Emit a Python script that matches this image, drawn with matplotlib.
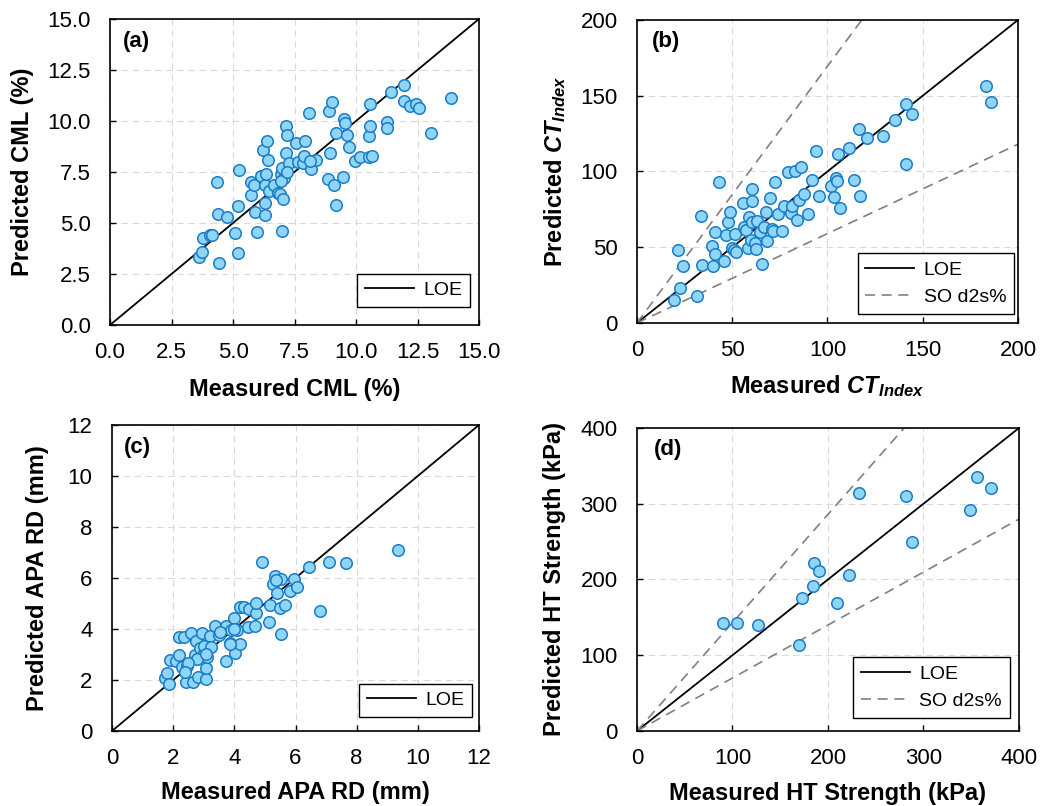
import matplotlib
matplotlib.use("Agg")
import matplotlib.pyplot as plt
import numpy as np

plt.rcParams['font.family'] = ['Liberation Sans', 'DejaVu Sans']
plt.rcParams['mathtext.fontset'] = 'custom'
plt.rcParams['mathtext.rm'] = 'Liberation Sans'
plt.rcParams['mathtext.it'] = 'Liberation Sans:italic'
plt.rcParams['mathtext.bf'] = 'Liberation Sans:bold'
plt.rcParams['mathtext.bfit'] = 'Liberation Sans:bold:italic'

# ---- data ----
cml_measured = [3.62, 3.73, 3.77, 4.05, 4.16, 4.34, 4.40, 4.44, 4.74, 5.08, 5.19, 5.20, 5.25,
                5.73, 5.75, 5.85, 5.88, 5.96, 6.13, 6.21, 6.29, 6.30, 6.30, 6.35, 6.37, 6.43,
                6.47, 6.66, 6.84, 6.90, 6.94, 7.01, 7.04, 7.01, 7.07, 7.14, 7.17, 7.19, 7.26,
                7.55, 7.64, 7.85, 7.88, 7.92, 8.10, 8.18, 8.39, 8.12, 8.86, 8.90, 8.94, 9.03,
                9.11, 9.17, 9.17, 9.47, 9.51, 9.57, 9.65, 9.72, 9.95, 10.15, 10.53, 10.64,
                10.53, 10.56, 10.56, 11.26, 11.26, 11.44, 11.94, 11.97, 12.21, 12.43, 12.56,
                13.06, 13.85, 6.95, 7.20]
cml_predicted = [3.32, 3.59, 4.25, 4.40, 4.41, 7.00, 5.44, 3.05, 5.30, 4.53, 3.55, 5.84, 7.60,
                 6.37, 7.03, 6.86, 5.55, 4.54, 7.32, 8.57, 6.86, 5.96, 5.37, 7.38, 9.00, 8.10,
                 6.58, 6.88, 6.45, 6.40, 7.42, 7.68, 6.18, 4.60, 7.19, 8.42, 9.75, 9.29, 7.92,
                 8.91, 7.97, 7.92, 8.28, 9.02, 10.41, 7.63, 8.09, 8.06, 7.17, 10.49, 8.45, 10.95,
                 6.88, 5.86, 9.43, 7.24, 10.08, 9.90, 9.31, 8.74, 8.04, 8.25, 8.25, 8.28,
                 9.28, 9.75, 10.83, 9.97, 9.67, 11.42, 11.75, 10.97, 10.72, 10.85, 10.64,
                 9.40, 11.14, 7.05, 7.50]

ct_measured = [19.3, 22.5, 21.6, 24.4, 31.6, 33.7, 34.2, 39.5, 39.8, 40.9, 41.2, 43.0, 45.6,
               46.8, 47.7, 48.8, 50.0, 51.1, 51.4, 51.8, 55.8, 56.1, 57.0, 58.1, 58.9, 59.6,
               60.2, 60.5, 60.2, 62.0, 62.6, 63.0, 64.4, 65.8, 66.7, 67.5, 68.2, 70.0, 70.7,
               71.4, 72.5, 74.2, 76.3, 77.2, 79.5, 80.9, 81.6, 82.8, 83.9, 85.1, 86.0, 87.5,
               90.0, 92.1, 94.2, 95.3, 101.9, 103.5, 104.7, 105.1, 105.6, 106.5, 111.1,
               113.7, 116.3, 117.0, 120.5, 129.3, 135.6, 141.2, 141.2, 144.2, 183.3, 186.0]
ct_predicted = [15.4, 22.8, 48.2, 37.9, 17.8, 70.8, 38.4, 51.1, 37.9, 45.4, 60.3, 93.2, 40.6,
                58.1, 66.4, 73.0, 49.8, 48.2, 58.8, 47.1, 78.9, 63.6, 61.4, 49.8, 70.2, 54.8,
                88.4, 80.5, 66.4, 52.6, 48.9, 67.5, 60.3, 38.8, 63.6, 73.5, 54.2, 82.5, 62.1,
                61.0, 93.2, 71.9, 61.0, 77.4, 99.8, 72.4, 77.4, 100.2, 68.0, 81.1, 103.1, 85.1,
                71.9, 94.3, 113.4, 83.8, 90.4, 83.3, 95.4, 93.9, 111.4, 76.1, 115.8,
                94.3, 127.9, 83.8, 122.1, 123.2, 133.8, 144.7, 105.0, 138.2, 156.6, 145.8]

rd_measured = [1.72, 1.80, 1.87, 1.91, 2.19, 2.35, 2.10, 2.18, 2.29, 2.45, 2.43, 2.65, 2.59,
               2.76, 2.81, 2.70, 2.87, 2.94, 3.00, 3.08, 3.08, 3.11, 3.19, 3.14, 3.36, 3.50,
               3.74, 3.74, 3.85, 3.90, 3.98, 4.01, 4.17, 4.09, 4.20, 4.31, 4.45, 4.48, 4.66,
               4.70, 4.72, 4.92, 5.13, 5.16, 5.26, 5.34, 5.39, 5.48, 5.51, 5.54, 5.65, 5.81,
               5.94, 6.06, 6.44, 6.79, 7.08, 7.66, 9.35, 2.78, 3.00, 3.25, 3.08, 2.49, 2.38,
               3.52, 3.99, 3.87, 5.37]
rd_predicted = [2.09, 2.29, 1.84, 2.78, 3.67, 3.67, 2.76, 2.98, 2.52, 2.56, 1.93, 1.93, 3.83,
                3.54, 2.13, 2.98, 3.24, 3.83, 3.07, 2.03, 2.46, 2.89, 3.73, 3.31, 4.13, 3.76,
                4.12, 2.75, 3.44, 3.96, 4.42, 3.05, 3.41, 3.96, 4.85, 4.85, 4.09, 4.77, 4.12,
                4.61, 5.01, 6.61, 4.29, 4.94, 5.75, 6.08, 5.42, 4.81, 3.79, 5.96, 4.92, 5.50,
                5.96, 5.63, 6.44, 4.72, 6.64, 6.60, 7.10, 2.81, 3.33, 3.31, 3.00, 2.65, 2.33,
                3.87, 3.99, 3.40, 5.92]

ht_measured = [90.2, 104.2, 127.0, 169.5, 172.3, 184.2, 185.3, 190.5, 209.5, 221.8, 232.3,
               282.1, 288.4, 348.8, 356.5, 370.5]
ht_predicted = [142.3, 142.3, 139.6, 114.1, 175.8, 191.2, 222.0, 211.5, 169.2, 206.2, 314.5,
                309.7, 249.3, 291.2, 334.8, 321.1]

# single-operator d2s% limits for CT Index and HT strength
d2s_ct = 0.695
d2s_ht = 0.43

FILL = '#8fd5f5'
EDGE = '#1a7cc6'


def style_axes(ax, lim, ticks, fmt):
    ax.set_xlim(0, lim)
    ax.set_ylim(0, lim)
    ax.set_xticks(ticks)
    ax.set_yticks(ticks)
    ax.set_xticklabels([fmt.format(t) for t in ticks])
    ax.set_yticklabels([fmt.format(t) for t in ticks])
    ax.tick_params(direction='in', length=4, width=1, labelsize=16)
    ax.tick_params(axis='x', pad=12)
    ax.tick_params(axis='y', pad=14)
    ax.grid(True, color='#d9d9d9', linestyle=(0, (6, 4)), linewidth=0.8)
    ax.set_axisbelow(True)
    for s in ax.spines.values():
        s.set_linewidth(1.2)
        s.set_color('black')


def draw_panel(ax, x, y, lim, ticks, fmt, tag, xlabel, ylabel, d2s, leg_anchor):
    style_axes(ax, lim, ticks, fmt)
    ax.plot([0, lim], [0, lim], color='black', lw=1.3, label='LOE', zorder=2)
    if d2s is not None:
        k = 1 + d2s
        ax.plot([0, lim], [0, lim * k], color='#808080', lw=1.2,
                linestyle=(0, (6, 4)), label='SO d2s%', zorder=2)
        ax.plot([0, lim], [0, lim / k], color='#808080', lw=1.2,
                linestyle=(0, (6, 4)), zorder=2)
    ax.plot(x, y, 'o', ms=8.3, mfc=FILL, mec=EDGE, mew=1.1, zorder=3, clip_on=False)
    ax.text(tag[1], tag[2], tag[0], transform=ax.transAxes, fontsize=16,
            fontweight='bold', ha='left', va='center')
    ax.set_xlabel(xlabel, fontsize=17, fontweight='bold')
    ax.set_ylabel(ylabel, fontsize=17, fontweight='bold')
    leg = ax.legend(loc='lower right', bbox_to_anchor=leg_anchor,
                    borderaxespad=0, fontsize=14, handlelength=2.5,
                    handletextpad=0.5, fancybox=False, framealpha=1,
                    edgecolor='black')
    leg.get_frame().set_linewidth(1.0)


fig = plt.figure(figsize=(10.4, 8.06), dpi=100)
ax_a = fig.add_axes([0.1058, 0.5968, 0.3548, 0.3797])
ax_b = fig.add_axes([0.6125, 0.5993, 0.3663, 0.3759])
ax_c = fig.add_axes([0.1077, 0.0931, 0.3529, 0.3797])
ax_d = fig.add_axes([0.6125, 0.0931, 0.3673, 0.3759])

draw_panel(ax_a, cml_measured, cml_predicted, 15, np.arange(0, 15.1, 2.5), '{:.1f}',
           ('(a)', 0.035, 0.925), 'Measured CML (%)', 'Predicted CML (%)', None,
           (0.976, 0.059))
draw_panel(ax_b, ct_measured, ct_predicted, 200, np.arange(0, 201, 50), '{:.0f}',
           ('(b)', 0.039, 0.928), r'Measured $\mathbfit{CT}_{\mathbfit{Index}}$',
           r'Predicted $\mathbfit{CT}_{\mathbfit{Index}}$', d2s_ct,
           (0.990, 0.030))
draw_panel(ax_c, rd_measured, rd_predicted, 12, np.arange(0, 12.1, 2), '{:.0f}',
           ('(c)', 0.033, 0.925), 'Measured APA RD (mm)', 'Predicted APA RD (mm)', None,
           (0.981, 0.046))
draw_panel(ax_d, ht_measured, ht_predicted, 400, np.arange(0, 401, 100), '{:.0f}',
           ('(d)', 0.0445, 0.93), 'Measured HT Strength (kPa)',
           'Predicted HT Strength (kPa)', d2s_ht,
           (0.976, 0.043))

# place axis titles where they sit in the reference
ax_a.xaxis.set_label_coords(0.5, -0.172)
ax_b.xaxis.set_label_coords(0.5, -0.167)
ax_c.xaxis.set_label_coords(0.5, -0.162)
ax_d.xaxis.set_label_coords(0.5, -0.167)
ax_a.yaxis.set_label_coords(-0.205, 0.5)
ax_b.yaxis.set_label_coords(-0.18, 0.5)
ax_c.yaxis.set_label_coords(-0.172, 0.5)
ax_d.yaxis.set_label_coords(-0.186, 0.5)

plt.savefig("out.png", dpi=100)
